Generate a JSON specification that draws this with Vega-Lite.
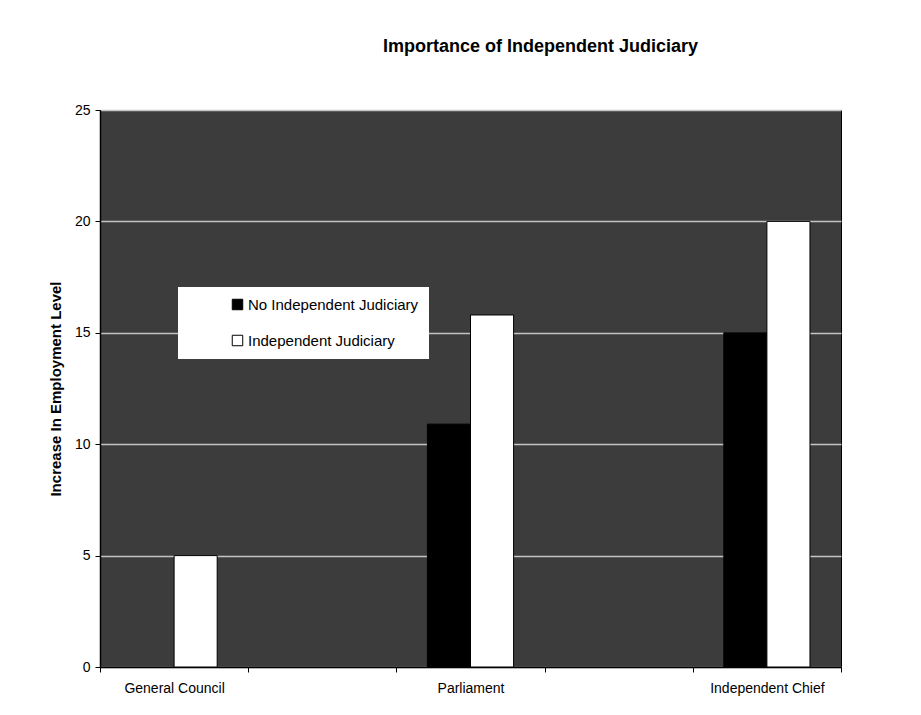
{
  "$schema": "https://vega.github.io/schema/vega-lite/v6.json",
  "width": 741,
  "height": 557,
  "autosize": {"type": "none"},
  "padding": {"left": 100, "top": 110, "right": 80, "bottom": 48},
  "background": "#ffffff",
  "config": {
    "font": "Liberation Sans",
    "view": {"fill": "#3c3c3c", "stroke": "#000000", "strokeWidth": 1}
  },
  "title": {
    "text": "Importance of Independent Judiciary",
    "font": "Liberation Sans",
    "fontSize": 18,
    "fontWeight": "bold",
    "color": "#000000",
    "anchor": "middle",
    "frame": "group",
    "dx": 70,
    "offset": 47
  },
  "data": {
    "values": [
      {"category": "General Council", "series": "Independent Judiciary", "value": 5.0},
      {"category": "Parliament", "series": "No Independent Judiciary", "value": 10.9},
      {"category": "Parliament", "series": "Independent Judiciary", "value": 15.8},
      {"category": "Independent Chief", "series": "No Independent Judiciary", "value": 15.0},
      {"category": "Independent Chief", "series": "Independent Judiciary", "value": 20.0}
    ]
  },
  "mark": {"type": "bar", "stroke": "#000000", "strokeWidth": 1},
  "encoding": {
    "x": {
      "field": "category",
      "type": "nominal",
      "sort": null,
      "scale": {
        "domain": ["General Council", "g1", "Parliament", "g2", "Independent Chief"],
        "paddingInner": 0,
        "paddingOuter": 0
      },
      "axis": {
        "title": null,
        "labelAngle": 0,
        "labelExpr": "datum.label == 'g1' || datum.label == 'g2' ? '' : datum.label",
        "labelFont": "Liberation Sans",
        "labelFontSize": 14,
        "labelColor": "#000000",
        "labelPadding": 9,
        "tickBand": "extent",
        "tickSize": 5,
        "tickColor": "#000000",
        "domainColor": "#000000",
        "domainWidth": 1.5,
        "grid": false
      }
    },
    "xOffset": {
      "field": "series",
      "type": "nominal",
      "scale": {
        "domain": ["No Independent Judiciary", "Independent Judiciary"],
        "paddingInner": 0,
        "paddingOuter": 0.72
      }
    },
    "y": {
      "field": "value",
      "type": "quantitative",
      "scale": {"domain": [0, 25], "nice": false},
      "axis": {
        "title": "Increase In Employment Level",
        "titleFont": "Liberation Sans",
        "titleFontSize": 15,
        "titleFontWeight": "bold",
        "titleColor": "#000000",
        "titlePadding": 11,
        "values": [0, 5, 10, 15, 20, 25],
        "labelFont": "Liberation Sans",
        "labelFontSize": 14,
        "labelColor": "#000000",
        "labelPadding": 5,
        "tickSize": 5,
        "tickColor": "#000000",
        "domainColor": "#000000",
        "domainWidth": 1.5,
        "grid": true,
        "gridColor": "#c4c4c4",
        "gridWidth": 1.5
      }
    },
    "fill": {
      "field": "series",
      "type": "nominal",
      "scale": {
        "domain": ["No Independent Judiciary", "Independent Judiciary"],
        "range": ["#000000", "#ffffff"]
      },
      "legend": {
        "title": null,
        "orient": "none",
        "legendX": 78,
        "legendY": 177,
        "fillColor": "#ffffff",
        "padding": 10,
        "symbolType": "square",
        "symbolSize": 110,
        "symbolStrokeColor": "#000000",
        "symbolStrokeWidth": 1,
        "symbolOffset": 42,
        "labelFont": "Liberation Sans",
        "labelFontSize": 15,
        "labelColor": "#000000",
        "labelOffset": 3,
        "labelLimit": 400,
        "labelExpr": "datum.label + '\u2003\u2003'",
        "rowPadding": 20
      }
    }
  }
}
